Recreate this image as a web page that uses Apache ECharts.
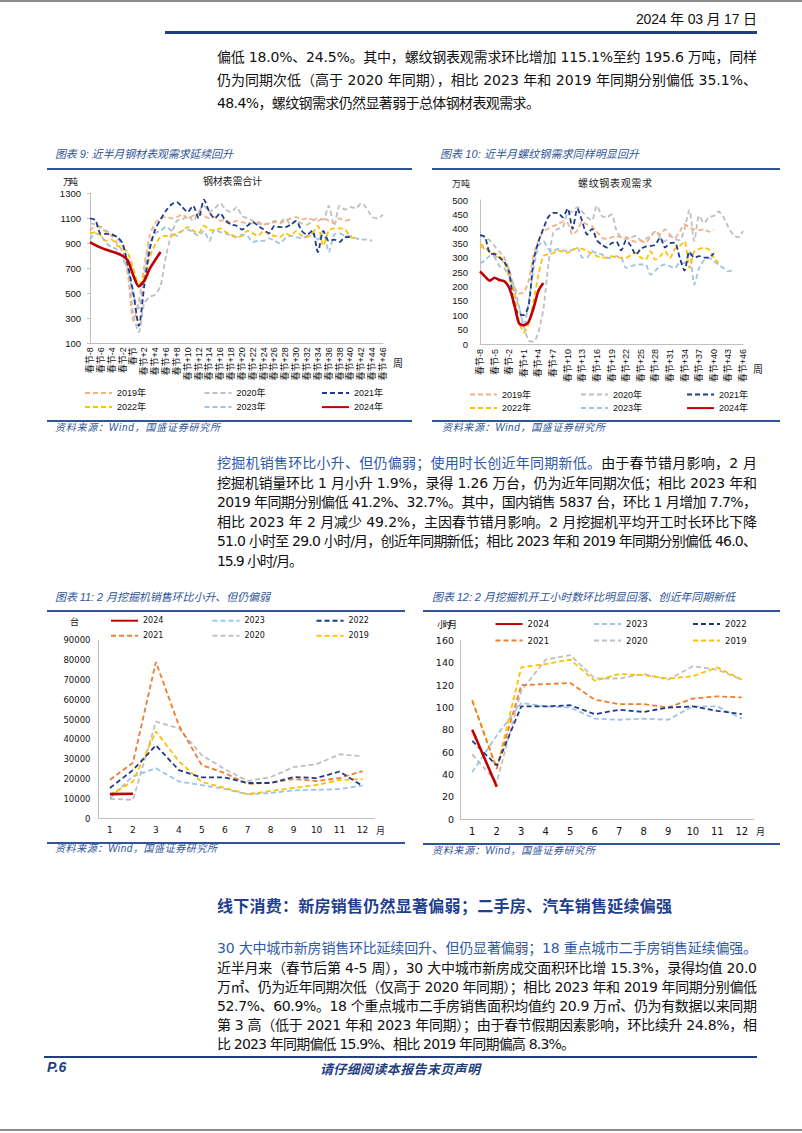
<!DOCTYPE html>
<html><head><meta charset="utf-8">
<script src="https://cdn.jsdelivr.net/npm/echarts@6/dist/echarts.min.js"></script>
<style>
html,body{margin:0;padding:0;background:#fff;}
#page{position:relative;width:802px;height:1133px;overflow:hidden;background:#fff;}
#chart{position:absolute;left:0;top:0;width:802px;height:1133px;z-index:1;}
.t{position:absolute;white-space:nowrap;line-height:1;z-index:2;font-family:"DejaVu Sans","Noto Sans CJK SC",sans-serif;color:#111;}
.b{font-size:14px;}
.r{position:absolute;z-index:2;}
.blue{color:#2F5BA7;}
.cap{font-size:11px;font-style:italic;color:#2F5597;font-family:"Liberation Sans","Noto Sans CJK SC",sans-serif;}
.src{font-size:10px;font-style:italic;color:#2F5597;font-family:"Liberation Sans","Noto Sans CJK SC",sans-serif;}
.cl{font-size:9px;font-family:"Noto Sans CJK SC",sans-serif;color:#222;}
</style></head>
<body><div id="page">
<div id="chart"></div>

<div class="r" style="left:0;top:0;width:802px;height:2px;background:#8c8c8c"></div>
<div class="r" style="left:0;top:1129px;width:802px;height:2px;background:#8c8c8c"></div>

<div class="t" style="left:636px;top:12px;font-size:14px;font-family:'Liberation Sans','Noto Sans CJK SC';" data-w="121">2024 年 03 月 17 日</div>
<div class="r" style="left:165px;top:31px;width:592px;height:2.5px;background:#1F3F7F"></div>

<div class="t b" style="left:217px;top:50px" data-w="540">偏低 18.0%、24.5%。其中，螺纹钢表观需求环比增加 115.1%至约 195.6 万吨，同样</div>
<div class="t b" style="left:217px;top:73px" data-w="540">仍为同期次低（高于 2020 年同期），相比 2023 年和 2019 年同期分别偏低 35.1%、</div>
<div class="t b" style="left:217px;top:96px" data-w="323">48.4%，螺纹钢需求仍然显著弱于总体钢材表观需求。</div>

<!-- chart 9/10 captions -->
<div class="t cap" style="left:55px;top:149px" data-w="178">图表 9: 近半月钢材表观需求延续回升</div>
<div class="r" style="left:47px;top:168px;width:365px;height:2px;background:#2F5597"></div>
<div class="t cap" style="left:440px;top:149px" data-w="199">图表 10: 近半月螺纹钢需求同样明显回升</div>
<div class="r" style="left:432px;top:168px;width:348px;height:2px;background:#2F5597"></div>

<div class="t cl" style="left:63px;top:177px" data-w="15">万吨</div>
<div class="t cl" style="left:203px;top:176px;font-size:10px" data-w="59">钢材表需合计</div>
<div class="t cl" style="left:393px;top:358px;font-size:10px">周</div>
<div class="t cl" style="left:452px;top:179px" data-w="18">万吨</div>
<div class="t cl" style="left:578px;top:178px;font-size:10px" data-w="74">螺纹钢表观需求</div>
<div class="t cl" style="left:753px;top:364px;font-size:10px">周</div>

<div class="r" style="left:47px;top:420px;width:365px;height:2px;background:#2F5597"></div>
<div class="t src" style="left:55px;top:423px" data-w="165">资料来源：Wind，国盛证券研究所</div>
<div class="r" style="left:432px;top:420px;width:348px;height:2px;background:#2F5597"></div>
<div class="t src" style="left:442px;top:423px" data-w="163">资料来源：Wind，国盛证券研究所</div>

<!-- para 2 -->
<div class="t b" style="left:217px;top:456px" data-w="540"><span class="blue">挖掘机销售环比小升、但仍偏弱；使用时长创近年同期新低。</span>由于春节错月影响，2 月</div>
<div class="t b" style="left:217px;top:475.6px" data-w="540">挖掘机销量环比 1 月小升 1.9%，录得 1.26 万台，仍为近年同期次低；相比 2023 年和</div>
<div class="t b" style="left:217px;top:495.2px" data-w="540">2019 年同期分别偏低 41.2%、32.7%。其中，国内销售 5837 台，环比 1 月增加 7.7%，</div>
<div class="t b" style="left:217px;top:514.8px" data-w="540">相比 2023 年 2 月减少 49.2%，主因春节错月影响。2 月挖掘机平均开工时长环比下降</div>
<div class="t b" style="left:217px;top:534.4px" data-w="540">51.0 小时至 29.0 小时/月，创近年同期新低；相比 2023 年和 2019 年同期分别偏低 46.0、</div>
<div class="t b" style="left:217px;top:554px" data-w="86">15.9 小时/月。</div>

<!-- chart 11/12 captions -->
<div class="t cap" style="left:55px;top:591.5px" data-w="215">图表 11: 2 月挖掘机销售环比小升、但仍偏弱</div>
<div class="r" style="left:47px;top:609.5px;width:358px;height:2px;background:#2F5597"></div>
<div class="t cap" style="left:432px;top:591.5px" data-w="303">图表 12: 2 月挖掘机开工小时数环比明显回落、创近年同期新低</div>
<div class="r" style="left:423px;top:609.5px;width:357px;height:2px;background:#2F5597"></div>

<div class="t cl" style="left:70px;top:617px">台</div>
<div class="t cl" style="left:376px;top:826px">月</div>
<div class="t cl" style="left:437px;top:619.5px" data-w="20">小时/月</div>
<div class="t cl" style="left:756px;top:826.5px">月</div>

<div class="r" style="left:47px;top:841.5px;width:358px;height:2px;background:#2F5597"></div>
<div class="t src" style="left:55px;top:844px" data-w="162">资料来源：Wind，国盛证券研究所</div>
<div class="r" style="left:423px;top:842.5px;width:357px;height:2px;background:#2F5597"></div>
<div class="t src" style="left:432px;top:845.5px" data-w="163">资料来源：Wind，国盛证券研究所</div>

<!-- para 3 -->
<div class="t" style="left:217px;top:899px;font-size:16px;font-weight:bold;color:#1F3F8F" data-w="455">线下消费：新房销售仍然显著偏弱；二手房、汽车销售延续偏强</div>
<div class="t b blue" style="left:217px;top:941px" data-w="540">30 大中城市新房销售环比延续回升、但仍显著偏弱；18 重点城市二手房销售延续偏强。</div>
<div class="t b" style="left:217px;top:960.5px" data-w="540">近半月来（春节后第 4-5 周），30 大中城市新房成交面积环比增 15.3%，录得均值 20.0</div>
<div class="t b" style="left:217px;top:979.5px" data-w="540">万㎡、仍为近年同期次低（仅高于 2020 年同期）；相比 2023 年和 2019 年同期分别偏低</div>
<div class="t b" style="left:217px;top:998.5px" data-w="540">52.7%、60.9%。18 个重点城市二手房销售面积均值约 20.9 万㎡、仍为有数据以来同期</div>
<div class="t b" style="left:217px;top:1017.5px" data-w="540">第 3 高（低于 2021 年和 2023 年同期）；由于春节假期因素影响，环比续升 24.8%，相</div>
<div class="t b" style="left:217px;top:1036.5px" data-w="358">比 2023 年同期偏低 15.9%、相比 2019 年同期偏高 8.3%。</div>

<div class="r" style="left:44px;top:1055.5px;width:713px;height:2.5px;background:#1F3F7F"></div>
<div class="t" style="left:47px;top:1060px;font-size:14px;font-weight:bold;font-style:italic;color:#1F3F7F;font-family:'Liberation Sans'">P.6</div>
<div class="t" style="left:320px;top:1061.5px;font-size:13px;font-weight:bold;font-style:italic;color:#1F3F7F;font-family:'Noto Sans CJK SC'" data-w="160">请仔细阅读本报告末页声明</div>
</div>

<script>
// ---------- categories / tick labels ----------
const weeks = ['春节-8','春节-7','春节-6','春节-5','春节-4','春节-3','春节-2','春节-1','春节',
'春节+1','春节+2','春节+3','春节+4','春节+5','春节+6','春节+7','春节+8','春节+9','春节+10',
'春节+11','春节+12','春节+13','春节+14','春节+15','春节+16','春节+17','春节+18','春节+19','春节+20',
'春节+21','春节+22','春节+23','春节+24','春节+25','春节+26','春节+27','春节+28','春节+29','春节+30',
'春节+31','春节+32','春节+33','春节+34','春节+35','春节+36','春节+37','春节+38','春节+39','春节+40',
'春节+41','春节+42','春节+43','春节+44','春节+45','春节+46'];
const months = ['1','2','3','4','5','6','7','8','9','10','11','12'];

// ---------- chart 9: 钢材表需合计 (万吨) ----------
const steel2019 = [1000,1040,1020,990,960,900,830,640, 280,430,720,960,1060,1100,1110,1100,1110,1130,
 1100,1120,1140,1120,1100,1110,1080,1090,1060,1080, 1070,1060,1060,1070,1050,1060,1070,1060,1080,1100,
 1110,1090,1100,1090,1080,1100,1080,1060,1100,1080,1090];
const steel2020 = [1060,1050,1030,1000,980,940,880,700, 330,190,420,470,490,560,800,970,1080,1090,
 1120,1080,1150,1200,1150,1180,1220,1170,1150,1190, 1120,1100,1080,1060,1050,1060,1080,1070,1100,1050,
 1080,1060,1050,1080,1100,1090,1200,1040,1200,1170, 1190,1180,1220,1180,1110,1100,1130];
const steel2021 = [1100,1085,975,975,970,950,900,720, 500,240,560,850,1010,1090,1160,1210,1230,1190,
 1150,1200,1100,1250,1150,1100,1140,1080,1050,1040, 1010,1040,1070,1040,1010,980,1040,1030,1030,1050,
 1080,1000,970,1000,830,1000,920,930,910,950,950];
const steel2022 = [980,990,960,920,930,880,870,820, 700,570,640,790,890,950,960,960,980,1000,
 1030,1000,980,1040,1010,1000,1020,990,970,950, 960,1000,980,960,1000,970,960,950,980,960,
 1000,960,950,980,1040,880,1000,1020,1020,1010,950,940];
const steel2023 = [930,980,960,900,870,850,780,690, 480,380,650,900,980,1000,1030,1000,960,1000,
 1010,990,960,1000,920,1010,990,980,960,950, 970,960,910,920,920,940,920,900,940,960,
 950,940,960,980,930,990,830,970,980,960, 960,940,930,930,920];
const steel2024 = [910,885,865,848,835,820,800,760,640,555,600,695,765,830];

// ---------- chart 10: 螺纹钢表观需求 (万吨) ----------
const rebar2019 = [340,330,320,305,300,280,255,200, 175,180,220,310,360,390,400,410,415,425,
 420,380,395,425,415,410,390,370,365,370, 375,370,372,360,355,358,352,370,392,380,
 398,380,369,390,416,405,398,395,398,390,398];
const rebar2020 = [375,370,360,340,320,300,255,180, 130,60,12,8,42,120,270,385,400,405,
 455,460,475,460,440,430,480,445,440,450, 395,370,365,370,375,360,365,375,390,370,
 357,375,365,360,400,465,357,445,420,440, 445,460,440,405,380,370,393];
const rebar2021 = [378,372,315,312,300,285,250,130, 105,100,135,290,355,400,440,455,455,440,
 470,400,470,425,380,400,360,345,335,350, 355,325,360,340,310,330,338,340,345,370,
 335,350,352,300,255,320,300,305,300,300,315];
const rebar2022 = [350,335,322,315,305,285,230,175, 80,40,70,150,240,305,311,315,325,320,
 317,325,334,330,322,315,305,300,300,305, 300,300,299,310,317,300,293,322,293,305,
 322,299,330,340,357,264,322,330,334,328,299,282];
const rebar2023 = [280,290,305,300,270,262,235,200, 130,60,150,260,340,357,330,322,330,325,
 322,328,334,300,300,322,315,311,300,299, 305,300,264,270,275,276,276,241,255,270,
 276,270,264,281,281,322,206,264,290,299, 287,275,264,252,258];
const rebar2024 = [252,235,220,230,222,218,195,140,72,65,78,125,185,212];

// ---------- chart 11: 挖掘机销量 (台) ----------
const exc2024 = [12400,12600];
const exc2023 = [10300,21400,25400,18800,16900,15000,12300,13000,14300,14600,14900,16800];
const exc2022 = [15500,24500,37000,24500,20800,20800,18000,18000,21000,20500,23800,16500];
const exc2021 = [19600,28200,79000,47000,27000,23000,17500,18200,20000,19000,20500,24000];
const exc2020 = [10000,9500,49000,45500,32000,25000,19000,21000,26000,27500,32500,31500];
const exc2019 = [12000,18700,44000,29000,18500,15500,12300,14000,15500,17000,19500,20000];

// ---------- chart 12: 挖掘机开工小时数 (小时/月) ----------
const hrs2024 = [80,29];
const hrs2023 = [42,75,104,101,100,90,89,90,89,101,101,90];
const hrs2022 = [70,48,101,101,102,94,98,96,100,101,97,94];
const hrs2021 = [106,45,120,121,122,107,103,103,100,108,110,109];
const hrs2020 = [58,33,115,143,147,126,126,130,125,137,134,125];
const hrs2019 = [107,45,136,139,143,124,130,129,126,128,136,125];

const C = {salmon:'#F4B183', grey:'#BFBFBF', navy:'#1F3A8C', yellow:'#FFC000', lblue:'#9DC3E6', red:'#C00000', orange:'#ED7D31'};

function ln(name, data, color, idx, dashed, width, z, smooth){
  return {type:'line', name, data, xAxisIndex:idx, yAxisIndex:idx, symbol:'none', z:z,
    smooth: smooth||false, clip:false,
    lineStyle:{color, width, type: dashed ? [5,3] : 'solid'}, itemStyle:{color}};
}
function vline(top, bottom){
  return {silent:true, symbol:'none', label:{show:false},
    lineStyle:{color:'#C00000', type:[4,2], width:1.3},
    data:[[{coord:['春节', bottom]},{coord:['春节', top]}]]};
}

const s9 = [
  ln('2020年', steel2020, C.grey, 0, true, 1.8, 2, 0.25),
  ln('2019年', steel2019, C.salmon, 0, true, 1.8, 3, 0.25),
  ln('2023年', steel2023, C.lblue, 0, true, 1.8, 4, 0.25),
  ln('2022年', steel2022, C.yellow, 0, true, 1.8, 5, 0.25),
  ln('2021年', steel2021, C.navy, 0, true, 1.8, 6, 0.25),
  Object.assign(ln('2024年', steel2024, C.red, 0, false, 2.6, 8, 0.25), {markLine: vline(1370, 100)})
];
const s10 = [
  ln('2020年', rebar2020, C.grey, 1, true, 1.8, 2, 0.25),
  ln('2019年', rebar2019, C.salmon, 1, true, 1.8, 3, 0.25),
  ln('2023年', rebar2023, C.lblue, 1, true, 1.8, 4, 0.25),
  ln('2022年', rebar2022, C.yellow, 1, true, 1.8, 5, 0.25),
  ln('2021年', rebar2021, C.navy, 1, true, 1.8, 6, 0.25),
  Object.assign(ln('2024年', rebar2024, C.red, 1, false, 2.6, 8, 0.25), {markLine: vline(505, 0)})
];
const s11 = [
  ln('2020', exc2020, C.grey, 2, true, 1.8, 2),
  ln('2023', exc2023, C.lblue, 2, true, 1.8, 3),
  ln('2019', exc2019, C.yellow, 2, true, 1.8, 4),
  ln('2021', exc2021, C.orange, 2, true, 1.8, 5),
  ln('2022', exc2022, C.navy, 2, true, 1.8, 6),
  ln('2024', exc2024, C.red, 2, false, 2.6, 8)
];
const s12 = [
  ln('2020', hrs2020, C.grey, 3, true, 1.8, 2),
  ln('2023', hrs2023, C.lblue, 3, true, 1.8, 3),
  ln('2019', hrs2019, C.yellow, 3, true, 1.8, 4),
  ln('2021', hrs2021, C.orange, 3, true, 1.8, 5),
  ln('2022', hrs2022, C.navy, 3, true, 1.8, 6),
  ln('2024', hrs2024, C.red, 3, false, 2.6, 8)
];

const AX = '#BFBFBF';
const latin = "'Liberation Sans','Noto Sans CJK SC',sans-serif";
const verd = "'DejaVu Sans','Noto Sans CJK SC',sans-serif";

function lg(name, left, top, fs, ff){
  return {data:[name], left, top, orient:'horizontal', itemWidth:27, itemHeight:10, itemGap:0, padding:0,
    selectedMode:false,
    itemStyle:{color:'rgba(0,0,0,0)', borderColor:'rgba(0,0,0,0)', borderWidth:0, opacity:0},
    textStyle:{fontSize:fs, color:'#111', fontFamily:ff}};
}
const legends = [
  lg('2019年',84,388.5,9,latin), lg('2020年',203.5,388.5,9,latin), lg('2021年',321,388.5,9,latin),
  lg('2022年',84,402.6,9,latin), lg('2023年',203.5,402.6,9,latin), lg('2024年',321,402.6,9,latin),
  lg('2019年',469,390,9,latin), lg('2020年',580,390,9,latin), lg('2021年',686,390,9,latin),
  lg('2022年',469,403.6,9,latin), lg('2023年',580,403.6,9,latin), lg('2024年',686,403.6,9,latin),
  lg('2024',110,616.7,8,verd), lg('2023',211.5,616.7,8,verd), lg('2022',315.5,616.7,8,verd),
  lg('2021',110,631.7,8,verd), lg('2020',211.5,631.7,8,verd), lg('2019',315.5,631.7,8,verd),
  lg('2024',494.5,619.8,8.5,verd), lg('2023',593,619.8,8.5,verd), lg('2022',692,619.8,8.5,verd),
  lg('2021',494.5,636.3,8.5,verd), lg('2020',593,636.3,8.5,verd), lg('2019',692,636.3,8.5,verd)
];

function xa(idx, data, gap, labelExtra){
  return Object.assign({gridIndex:idx, type:'category', data, boundaryGap:gap,
    axisLine:{show:true, lineStyle:{color:AX, width:1}}, axisTick:{show:false}, splitLine:{show:false}}, labelExtra);
}
function ya(idx, min, max, interval, fs, margin, ff, tick){
  return {gridIndex:idx, type:'value', min, max, interval,
    axisLine:{show:true, lineStyle:{color:AX, width:1}},
    axisTick:{show:!!tick, length:3, lineStyle:{color:AX}},
    splitLine:{show:false},
    axisLabel:{fontSize:fs, color:'#111', margin, fontFamily:ff, formatter:(v)=>String(v)}};
}

const option = {
  animation:false,
  grid:[
    {left:90, top:193.3, width:293, height:150, containLabel:false},
    {left:480, top:200, width:263, height:144, containLabel:false},
    {left:98.5, top:640.2, width:275.5, height:178.5, containLabel:false},
    {left:460, top:640.6, width:294, height:178.4, containLabel:false}
  ],
  xAxis:[
    xa(0, weeks, false, {axisLabel:{rotate:90, interval:1, fontSize:9, color:'#111', margin:4, fontFamily:latin}}),
    xa(1, weeks, false, {axisLabel:{rotate:90, interval:2, fontSize:9, color:'#111', margin:5, fontFamily:latin}}),
    xa(2, months, true, {axisLabel:{interval:0, fontSize:9, color:'#111', margin:7, fontFamily:verd}}),
    xa(3, months, true, {axisLabel:{interval:0, fontSize:10, color:'#111', margin:7, fontFamily:verd}})
  ],
  yAxis:[
    ya(0, 100, 1300, 200, 9.5, 9, latin, true),
    ya(1, 0, 500, 50, 9.5, 12, latin, false),
    ya(2, 0, 90000, 10000, 8.5, 8, verd, false),
    ya(3, 0, 160, 20, 9.5, 6, verd, false)
  ],
  legend: legends,
  series: [].concat(s9, s10, s11, s12)
};

const chart = echarts.init(document.getElementById('chart'), null, {renderer:'svg', width:802, height:1133});
chart.setOption(option);

function fitAll(){
  document.querySelectorAll('[data-w]').forEach(el=>{
    el.style.letterSpacing='0px';
    const w = el.getBoundingClientRect().width;
    const n = Array.from(el.textContent).length;
    if(n>1) el.style.letterSpacing = ((+el.dataset.w - w)/(n-1)) + 'px';
  });
}
fitAll();
if (document.fonts && document.fonts.ready) document.fonts.ready.then(fitAll);
</script>
</body></html>
